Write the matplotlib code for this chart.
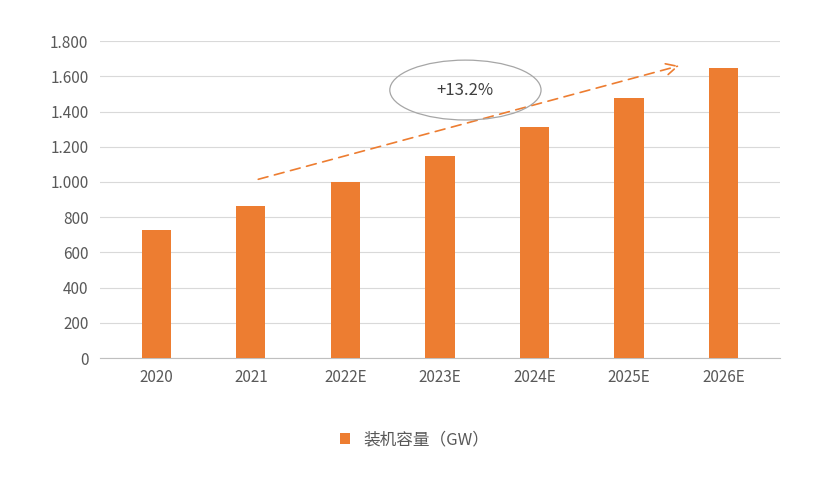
import matplotlib
matplotlib.use("Agg")
import matplotlib.pyplot as plt
from matplotlib.patches import Ellipse

categories = ["2020", "2021", "2022E", "2023E", "2024E", "2025E", "2026E"]
values = [725, 865, 1000, 1150, 1310, 1475, 1650]
yticks = [0, 200, 400, 600, 800, 1000, 1200, 1400, 1600, 1800]

plt.rcParams["font.family"] = ["Noto Sans CJK SC"]
fig = plt.figure(figsize=(8.3, 4.78), dpi=100)
ax = fig.add_axes([0.12, 0.251, 0.82, 0.663])
x = list(range(len(categories)))
ax.bar(x, values, width=0.31, color="#ED7D31", zorder=3, label="装机容量（GW）")
ax.set_xlim(-0.6, len(categories) - 0.4)
ax.set_ylim(0, 1800)
ax.set_yticks(yticks)
ax.set_yticklabels([f"{v:,}".replace(",", ".") for v in yticks], fontsize=11, color="#595959")
ax.set_xticks(x)
ax.set_xticklabels(categories, fontsize=11, color="#595959")
ax.tick_params(length=0, pad=8)
ax.grid(axis="y", color="#D9D9D9", linewidth=0.8, zorder=0)
for s in ["top", "right", "left"]:
    ax.spines[s].set_visible(False)
ax.spines["bottom"].set_color("#BFBFBF")

ax.annotate("", xy=(5.56, 1664), xytext=(1.05, 1011),
            arrowprops=dict(arrowstyle="->", linestyle=(0, (6, 4)), color="#ED7D31", lw=1.2,
                            mutation_scale=20), zorder=4)
ax.add_patch(Ellipse((3.27, 1522), 1.6, 340, fill=False, edgecolor="#A6A6A6", lw=0.9, zorder=4))
ax.text(3.27, 1522, "+13.2%", ha="center", va="center", fontsize=12, color="#404040", zorder=5)

fig.legend(loc="center", bbox_to_anchor=(0.5, 0.08), frameon=False, fontsize=12,
           handlelength=0.6, handleheight=0.6, labelcolor="#595959")
fig.savefig("out.png", dpi=100)
